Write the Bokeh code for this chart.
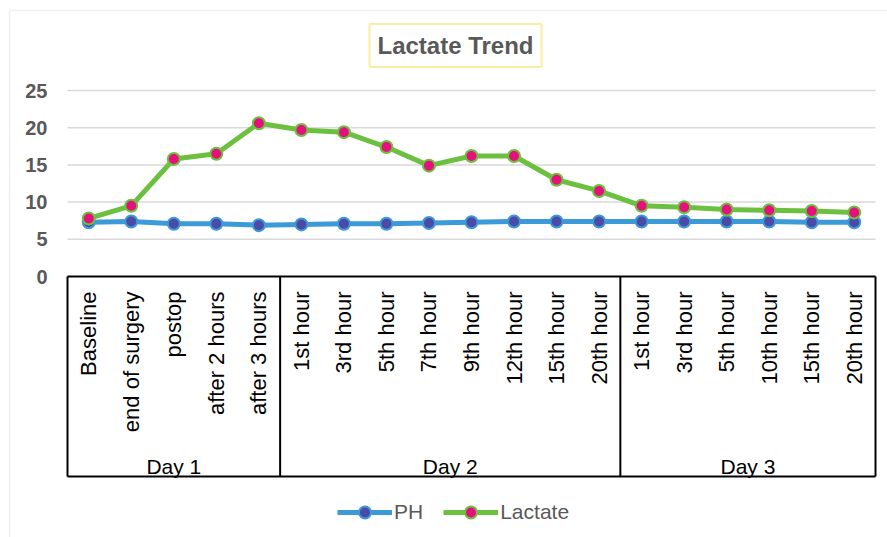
from bokeh.plotting import figure
from bokeh.models import Range1d, FixedTicker, Label, Legend, LegendItem, BoxAnnotation, ColumnDataSource
from bokeh.core.properties import value
from bokeh.embed import file_html
from bokeh.resources import INLINE

# ---- data ----
days = ["Day 1", "Day 2", "Day 3"]
day1 = ["Baseline", "end of surgery", "postop", "after 2 hours", "after 3 hours"]
day2 = ["1st hour", "3rd hour", "5th hour", "7th hour", "9th hour", "12th hour", "15th hour", "20th hour"]
day3 = ["1st hour", "3rd hour", "5th hour", "10th hour", "15th hour", "20th hour"]
ph = [7.3, 7.4, 7.1, 7.1, 6.9, 7.0, 7.1, 7.1, 7.2, 7.3, 7.4, 7.4, 7.4, 7.4, 7.4, 7.4, 7.4, 7.3, 7.3]
lactate = [7.8, 9.5, 15.8, 16.5, 20.6, 19.7, 19.4, 17.4, 14.9, 16.2, 16.2, 13.0, 11.5, 9.5, 9.3, 9.0, 8.9, 8.8, 8.6]
y_ticks = [0, 5, 10, 15, 20, 25]
grid_ticks = [5, 10, 15, 20, 25]

groups = [day1, day2, day3]
labels = day1 + day2 + day3
n = len(labels)
xs = [i + 0.5 for i in range(n)]

FONT = "Liberation Sans"
GRAY = "#595959"
W, H = 887, 537

# pixel geometry of the plot area (canvas px from top-left)
X0_PX, X1_PX = 67, 875      # category 0 .. n
Y0_PX, Y25_PX = 276, 90     # value 0 and 25
ux = (X1_PX - X0_PX) / n
uy = (Y0_PX - Y25_PX) / 25.0

def dx(px):
    return (px - X0_PX) / ux

def dy(py):
    return (Y0_PX - py) / uy

p = figure(width=W, height=H, output_backend="svg", toolbar_location=None,
           x_range=Range1d(dx(0), dx(W)), y_range=Range1d(dy(H), dy(0)),
           x_axis_location=None, min_border=0)
p.outline_line_color = None
p.background_fill_color = "white"
p.border_fill_color = "white"
p.xgrid.visible = False
p.ygrid.visible = False

ax = p.yaxis[0]
ax.fixed_location = dx(63)
ax.ticker = FixedTicker(ticks=y_ticks)
ax.axis_line_color = None
ax.major_tick_line_color = None
ax.minor_tick_line_color = None
ax.major_tick_in = 0
ax.major_tick_out = 0
ax.major_label_standoff = 16
ax.major_label_text_font = FONT
ax.major_label_text_font_size = "20px"
ax.major_label_text_font_style = "bold"
ax.major_label_text_color = GRAY

# ---- outer frame ----
p.add_layout(BoxAnnotation(left=dx(9), right=dx(W + 20), top=dy(10), bottom=dy(H + 20),
                           fill_color=None, line_color="#d0d0d0", line_width=1.5, level="underlay"))

# ---- gridlines ----
p.segment(x0=[0] * len(grid_ticks), x1=[n] * len(grid_ticks), y0=grid_ticks, y1=grid_ticks,
          line_color="#d9d9d9", line_width=1.5)

# ---- category box ----
box_bottom = dy(476)
bounds = [0]
for g in groups:
    bounds.append(bounds[-1] + len(g))
p.segment(x0=[0, 0], y0=[0, box_bottom], x1=[n, n], y1=[0, box_bottom], line_color="black", line_width=2)
p.segment(x0=bounds, y0=[0] * len(bounds), x1=bounds, y1=[box_bottom] * len(bounds),
          line_color="black", line_width=2)

p.text(x=xs, y=[dy(291)] * n, text=labels, angle=1.5707963, text_align="right", text_baseline="middle",
       text_font=value(FONT), text_font_size="22px", text_color="black")
centers = [(bounds[i] + bounds[i + 1]) / 2 for i in range(len(groups))]
p.text(x=centers, y=[dy(466)] * len(days), text=days, text_align="center", text_baseline="middle",
       text_font=value(FONT), text_font_size="21px", text_color="black")

# ---- series ----
src = ColumnDataSource(dict(x=xs, ph=ph, lac=lactate))
ph_line = p.line("x", "ph", source=src, line_color="#3c9ad8", line_width=5)
ph_pts = p.scatter("x", "ph", source=src, size=12, fill_color="#4b4aa6", line_color="#3c9ad8", line_width=2)
lac_line = p.line("x", "lac", source=src, line_color="#6cc03f", line_width=5)
lac_pts = p.scatter("x", "lac", source=src, size=12, fill_color="#e6107d", line_color="#6cc03f", line_width=2)

# ---- title ----
title = Label(x=dx(455), y=dy(45), text="Lactate Trend", text_align="center",
              text_baseline="middle", text_font=FONT, text_font_size="24px", text_font_style="bold",
              text_color=GRAY, border_line_color="#fbeea0", border_line_width=2,
              background_fill_color="white", padding=8)
p.add_layout(title)

legend = Legend(items=[LegendItem(label="PH", renderers=[ph_line, ph_pts]),
                       LegendItem(label="Lactate", renderers=[lac_line, lac_pts])],
                location=(337, 10), orientation="horizontal", glyph_width=55, glyph_height=30,
                label_text_font=FONT, label_text_font_size="21px", label_text_color=GRAY,
                border_line_color=None, background_fill_alpha=0, spacing=20, label_standoff=2,
                padding=5, margin=0)
p.add_layout(legend, "center")

open("out.html", "w").write(file_html(p, INLINE))
